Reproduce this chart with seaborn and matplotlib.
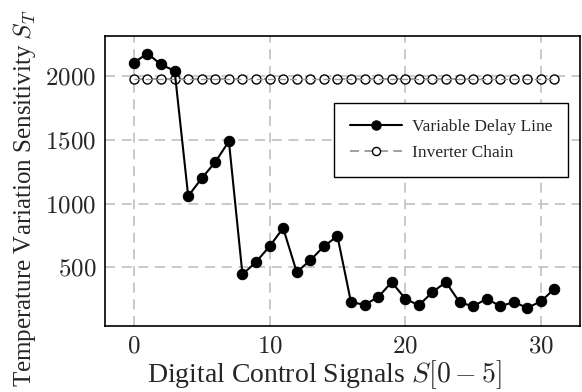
import numpy as np
import pandas as pd
import matplotlib
matplotlib.use('Agg')
import matplotlib.pyplot as plt
import seaborn as sns

# digital control signal index
signals = list(range(32))

# temperature variation sensitivity
delay_line = [2107, 2178, 2092, 2042, 1060, 1200, 1327, 1490,
              446, 543, 666, 809, 464, 556, 666, 746,
              228, 208, 267, 385, 255, 203, 307, 385,
              228, 195, 255, 197, 228, 184, 234, 333]
inverter_chain = [1975] * 32

xticks = [0, 10, 20, 30]
yticks = [500, 1000, 1500, 2000]

df = pd.DataFrame({'signal': signals,
                   'Variable Delay Line': delay_line,
                   'Inverter Chain': inverter_chain})

sns.set_style('white')
plt.rcParams['font.family'] = ['Liberation Serif', 'DejaVu Serif']
plt.rcParams['mathtext.fontset'] = 'cm'

fig = plt.figure(figsize=(5.82, 3.92), dpi=100)
ax = fig.add_axes([0.180, 0.168, 0.817, 0.740])

sns.lineplot(data=df, x='signal', y='Inverter Chain', ax=ax,
             color='#999999', linestyle=(0, (5, 3)), linewidth=1.3,
             marker='o', markersize=6.5, markerfacecolor='white',
             markeredgecolor='black', markeredgewidth=1.0,
             label='Inverter Chain', zorder=3)
# dashed line passes over the open circles, as in the reference
ax.plot(signals, inverter_chain, color='#999999', linestyle=(0, (5, 3)),
        linewidth=1.0, zorder=3.5)
sns.lineplot(data=df, x='signal', y='Variable Delay Line', ax=ax,
             color='black', linewidth=1.5,
             marker='o', markersize=7.5, markerfacecolor='black',
             markeredgecolor='black', label='Variable Delay Line', zorder=4)

ax.set_xlim(-2.15, 32.9)
ax.set_ylim(40, 2315)
ax.set_xticks(xticks)
ax.set_xticklabels([f'${v}$' for v in xticks])
ax.set_yticks(yticks)
ax.set_yticklabels([f'${v}$' for v in yticks])
ax.tick_params(length=0, labelsize=18)
ax.tick_params(axis='x', pad=7)
ax.tick_params(axis='y', pad=6)
ax.grid(True, color='#c0c0c0', linestyle=(0, (6, 4)), linewidth=1.2)
ax.set_axisbelow(True)
for s in ax.spines.values():
    s.set_color('black')
    s.set_linewidth(1.2)

ax.set_xlabel(r'Digital Control Signals $S[0-5]$', fontsize=20, labelpad=0)
ax.set_ylabel(r'Temperature Variation Sensitivity $S_T$', fontsize=18, labelpad=5)
ax.xaxis.label.set_x(0.461)
ax.yaxis.label.set_y(0.441)

handles, labels = ax.get_legend_handles_labels()
order = [labels.index('Variable Delay Line'), labels.index('Inverter Chain')]
leg = ax.legend([handles[i] for i in order], [labels[i] for i in order],
                loc='upper right', bbox_to_anchor=(0.975, 0.769),
                prop={'family': 'Liberation Serif', 'size': 12.5},
                frameon=True, fancybox=False, edgecolor='black',
                framealpha=1, handlelength=3.0, markerscale=0.9,
                borderpad=0.9, labelspacing=0.6, handletextpad=0.6,
                borderaxespad=0)
leg.get_frame().set_linewidth(1.0)

fig.savefig('out.png', dpi=100)
